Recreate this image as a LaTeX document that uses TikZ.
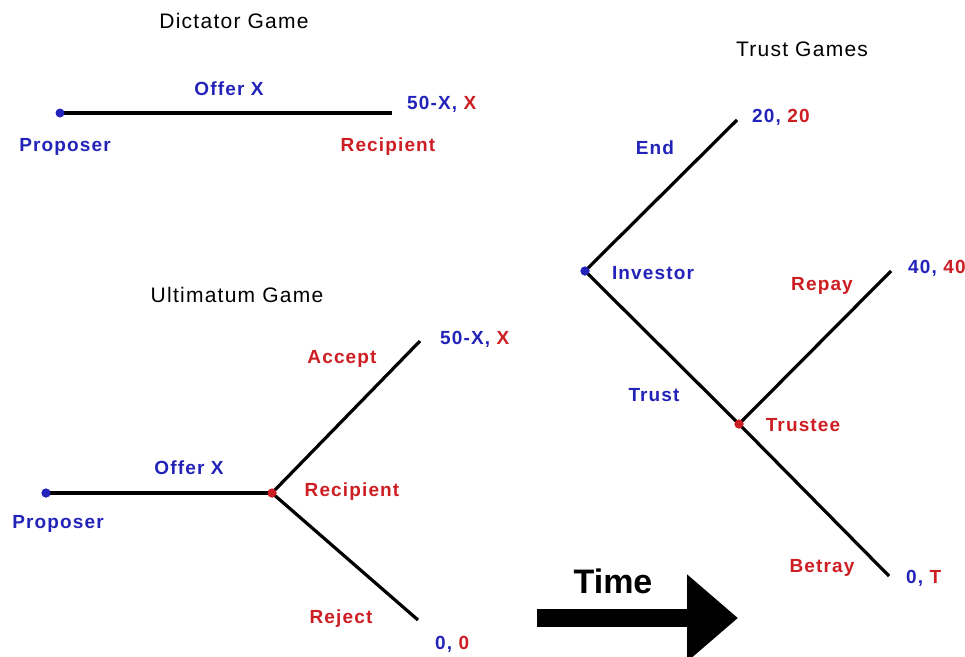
\documentclass[tikz,border=0pt]{standalone}
\usepackage{fontspec}
\setmainfont{Liberation Sans}
\newfontfamily\gamefont{Liberation Sans}[LetterSpace=6]
\usetikzlibrary{arrows.meta}
\definecolor{pblue}{RGB}{35,35,185}
\definecolor{pred}{RGB}{205,30,35}
\tikzset{
    move/.style={draw=black,line width=3.2pt},
    pnode/.style={circle,fill=pblue,minimum size=9pt,inner sep=0pt},
    rnode/.style={circle,fill=pred,minimum size=9pt,inner sep=0pt},
    title/.style={font=\gamefont\fontsize{21}{24}\selectfont,inner sep=0pt},
    bl/.style={text=pblue,font=\gamefont\bfseries\fontsize{19}{22}\selectfont,inner sep=0pt},
    rl/.style={text=pred,font=\gamefont\bfseries\fontsize{19}{22}\selectfont,inner sep=0pt},
    pay/.style={anchor=west,font=\gamefont\bfseries\fontsize{19}{22}\selectfont,inner sep=0pt},
}
\newcommand{\payoff}[2]{{\color{pblue}#1,} {\color{pred}#2}}

\begin{document}
\begin{tikzpicture}[x=1pt,y=-1pt]
    \clip (0,0) rectangle (965,656);
    \useasboundingbox (0,0) rectangle (965,656);

    % dictator game
    \node[title] (dtitle) at (234,21) {Dictator Game};
    \coordinate (dend) at (392,113);
    \draw[move,line width=4.2pt] (60,113) coordinate (dstart) -- (dend);
    \node[pnode] (dprop) at (dstart) {};
    \node[bl] (doffer) at (229,89) {Offer X};
    \node[bl] (dproplbl) at (65,147) {Proposer};
    \node[rl] (dreclbl) at (388,147) {Recipient};
    \node[pay] (dpay) at (407,104) {\payoff{50-X}{X}};

    % ultimatum game
    \node[title] (utitle) at (237,295) {Ultimatum Game};
    \node[pnode] (uprop) at (46,493) {};
    \node[rnode] (urec) at (272,493) {};
    \coordinate (uacc) at (420,341);
    \coordinate (urej) at (418,620);
    \draw[move] (uprop.center) -- (urec.center);
    \draw[move] (urec.center) -- (uacc);
    \draw[move] (urec.center) -- (urej);
    \node[pnode] at (uprop) {};
    \node[rnode] at (urec) {};
    \node[bl] (uoffer) at (189,468) {Offer X};
    \node[bl] (uproplbl) at (58,524) {Proposer};
    \node[rl] (ureclbl) at (352,492) {Recipient};
    \node[rl] (uacclbl) at (342,359) {Accept};
    \node[rl] (urejlbl) at (341,619) {Reject};
    \node[pay] (upay1) at (440,339) {\payoff{50-X}{X}};
    \node[pay] (upay2) at (435,644) {\payoff{0}{0}};

    % trust game
    \node[title] (ttitle) at (802,49) {Trust Games};
    \node[pnode] (tinv) at (585,271) {};
    \node[rnode] (ttee) at (739,424) {};
    \coordinate (tend) at (737,120);
    \coordinate (trep) at (891,271);
    \coordinate (tbet) at (889,576);
    \draw[move] (tinv.center) -- (tend);
    \draw[move] (tinv.center) -- (ttee.center);
    \draw[move] (ttee.center) -- (trep);
    \draw[move] (ttee.center) -- (tbet);
    \node[pnode] at (tinv) {};
    \node[rnode] at (ttee) {};
    \node[bl] (tendlbl) at (655,148) {End};
    \node[bl] (tinvlbl) at (653,273) {Investor};
    \node[bl] (ttrustlbl) at (654,395) {Trust};
    \node[rl] (tteelbl) at (803,425) {Trustee};
    \node[rl] (treplbl) at (822,286) {Repay};
    \node[rl] (tbetlbl) at (822,568) {Betray};
    \node[pay] (tpay1) at (752,117) {\payoff{20}{20}};
    \node[pay] (tpay2) at (908,268) {\payoff{40}{40}};
    \node[pay] (tpay3) at (906,578) {\payoff{0}{T}};

    % time arrow
    \node[font=\bfseries\fontsize{34}{38}\selectfont,inner sep=0pt] (time) at (613,581) {Time};
    \coordinate (tastart) at (537,618);
    \coordinate (taend) at (738,618);
    \draw[line width=18pt,-{Triangle[length=51pt,width=84pt]}] (tastart) -- (taend);
\end{tikzpicture}
\end{document}
